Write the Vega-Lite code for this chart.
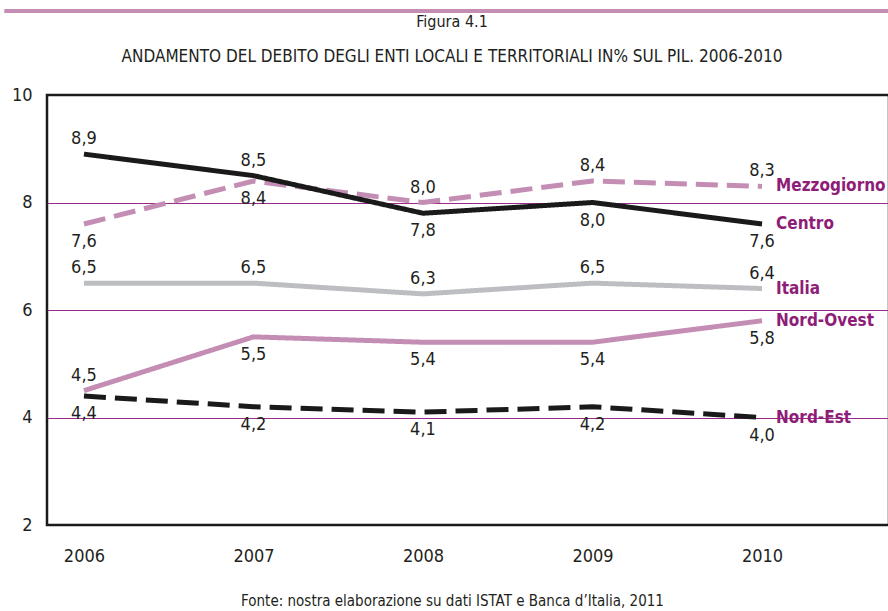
{
  "$schema": "https://vega.github.io/schema/vega-lite/v6.json",
  "width": 842,
  "height": 430,
  "autosize": {"type": "none"},
  "padding": {"left": 47, "top": 95, "right": 0, "bottom": 86},
  "background": "white",
  "config": {
    "locale": {"number": {"decimal": ",", "thousands": ".", "grouping": [3], "currency": ["€", ""]}},
    "font": "DejaVu Sans Condensed, Liberation Sans Narrow, sans-serif",
    "view": {"stroke": "#1a1a1a", "strokeWidth": 2.5}
  },
  "title": {
    "text": "Figura 4.1",
    "subtitle": "ANDAMENTO DEL DEBITO DEGLI ENTI LOCALI E TERRITORIALI IN% SUL PIL. 2006-2010",
    "anchor": "middle",
    "frame": "group",
    "dx": -16,
    "fontSize": 16,
    "fontWeight": "normal",
    "color": "#231f20",
    "subtitleFontSize": 17,
    "subtitleColor": "#231f20",
    "subtitlePadding": 19,
    "offset": -56
  },
  "data": {
    "values": [
      {"year": 2006, "serie": "Mezzogiorno", "v": 7.6},
      {"year": 2007, "serie": "Mezzogiorno", "v": 8.4},
      {"year": 2008, "serie": "Mezzogiorno", "v": 8.0},
      {"year": 2009, "serie": "Mezzogiorno", "v": 8.4},
      {"year": 2010, "serie": "Mezzogiorno", "v": 8.3},
      {"year": 2006, "serie": "Centro", "v": 8.9},
      {"year": 2007, "serie": "Centro", "v": 8.5},
      {"year": 2008, "serie": "Centro", "v": 7.8},
      {"year": 2009, "serie": "Centro", "v": 8.0},
      {"year": 2010, "serie": "Centro", "v": 7.6},
      {"year": 2006, "serie": "Italia", "v": 6.5},
      {"year": 2007, "serie": "Italia", "v": 6.5},
      {"year": 2008, "serie": "Italia", "v": 6.3},
      {"year": 2009, "serie": "Italia", "v": 6.5},
      {"year": 2010, "serie": "Italia", "v": 6.4},
      {"year": 2006, "serie": "Nord-Ovest", "v": 4.5},
      {"year": 2007, "serie": "Nord-Ovest", "v": 5.5},
      {"year": 2008, "serie": "Nord-Ovest", "v": 5.4},
      {"year": 2009, "serie": "Nord-Ovest", "v": 5.4},
      {"year": 2010, "serie": "Nord-Ovest", "v": 5.8},
      {"year": 2006, "serie": "Nord-Est", "v": 4.4},
      {"year": 2007, "serie": "Nord-Est", "v": 4.2},
      {"year": 2008, "serie": "Nord-Est", "v": 4.1},
      {"year": 2009, "serie": "Nord-Est", "v": 4.2},
      {"year": 2010, "serie": "Nord-Est", "v": 4.0}
    ]
  },
  "layer": [
    {
      "mark": {"type": "line", "strokeCap": "butt"},
      "encoding": {
        "x": {
          "field": "year", "type": "quantitative",
          "scale": {"domain": [2005.782, 2010.749], "nice": false, "zero": false},
          "axis": {
            "values": [2006, 2007, 2008, 2009, 2010], "format": "d",
            "labelFontSize": 18, "labelColor": "#231f20", "ticks": false, "domain": false, "grid": false,
            "labelPadding": 22,
            "title": "Fonte: nostra elaborazione su dati ISTAT e Banca d’Italia, 2011",
            "titleFontSize": 15, "titleFontWeight": "normal", "titleColor": "#231f20",
            "titleX": 405, "titleY": 80, "titleBaseline": "alphabetic"
          }
        },
        "y": {
          "field": "v", "type": "quantitative",
          "scale": {"domain": [2, 10], "nice": false, "zero": false},
          "axis": {
            "values": [2, 4, 6, 8, 10], "labelFontSize": 18, "labelColor": "#231f20",
            "ticks": false, "domain": false, "labelPadding": 15, "title": null,
            "grid": true, "gridColor": "#9b2a86", "gridWidth": 1.2,
            "gridOpacity": {"condition": {"test": "datum.value == 2 || datum.value == 10", "value": 0}, "value": 1}
          }
        },
        "color": {
          "field": "serie", "type": "nominal", "legend": null,
          "scale": {"domain": ["Mezzogiorno", "Centro", "Italia", "Nord-Ovest", "Nord-Est"],
                    "range": ["#c48db4", "#1a1a1a", "#bdbec2", "#c48db4", "#1a1a1a"]}
        },
        "strokeDash": {
          "field": "serie", "type": "nominal", "legend": null,
          "scale": {"domain": ["Mezzogiorno", "Centro", "Italia", "Nord-Ovest", "Nord-Est"],
                    "range": [[22, 9], [1, 0], [1, 0], [1, 0], [22, 9]]}
        },
        "strokeWidth": {
          "field": "serie", "type": "nominal", "legend": null,
          "scale": {"domain": ["Mezzogiorno", "Centro", "Italia", "Nord-Ovest", "Nord-Est"],
                    "range": [5, 5, 4, 5, 5]}
        }
      }
    },
    {
      "transform": [{"filter": "!((datum.serie=='Centro' && datum.year>=2008) || (datum.serie=='Mezzogiorno' && datum.year<=2007) || (datum.serie=='Nord-Ovest' && datum.year>=2007) || datum.serie=='Nord-Est')"}],
      "mark": {"type": "text", "fontSize": 18, "color": "#231f20", "baseline": "alphabetic", "dy": -10},
      "encoding": {
        "x": {"field": "year", "type": "quantitative"},
        "y": {"field": "v", "type": "quantitative"},
        "text": {"field": "v", "type": "quantitative", "format": ".1f"}
      }
    },
    {
      "transform": [{"filter": "(datum.serie=='Centro' && datum.year>=2008) || (datum.serie=='Mezzogiorno' && datum.year<=2007) || (datum.serie=='Nord-Ovest' && datum.year>=2007) || datum.serie=='Nord-Est'"}],
      "mark": {"type": "text", "fontSize": 18, "color": "#231f20", "baseline": "top", "dy": 9},
      "encoding": {
        "x": {"field": "year", "type": "quantitative"},
        "y": {"field": "v", "type": "quantitative"},
        "text": {"field": "v", "type": "quantitative", "format": ".1f"}
      }
    },
    {
      "transform": [{"filter": "datum.year == 2010"}],
      "mark": {"type": "text", "fontSize": 17, "fontWeight": "bold", "color": "#8e1d77", "align": "left", "baseline": "middle", "dx": 14},
      "encoding": {
        "x": {"field": "year", "type": "quantitative"},
        "y": {"field": "v", "type": "quantitative"},
        "text": {"field": "serie"}
      }
    },
    {
      "mark": {"type": "rule", "color": "#c48db4", "strokeWidth": 4, "clip": false},
      "encoding": {
        "x": {"datum": 2005.534, "type": "quantitative"},
        "x2": {"datum": 2010.749},
        "y": {"datum": 11.563, "type": "quantitative"}
      }
    }
  ]
}
